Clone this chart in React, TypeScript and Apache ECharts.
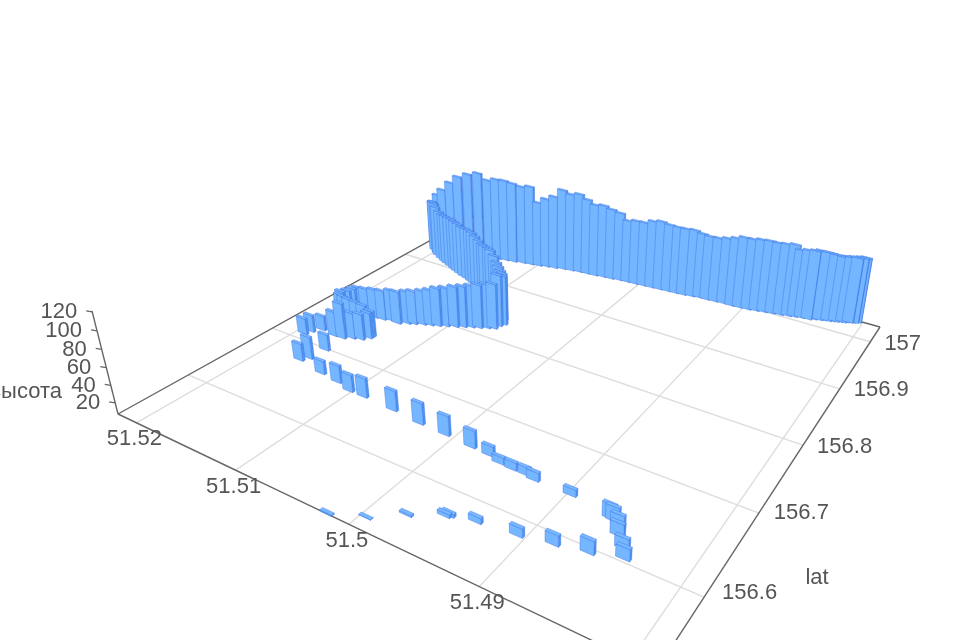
import React, { useEffect, useRef } from "react";
import * as echarts from "echarts";

// [lon, lat, height]
const ribbonBars = [
  [51.4806,157.033,91],[51.4808,157.031,91],[51.4810,157.030,91],[51.4812,157.028,91],[51.4815,157.027,91],
  [51.4817,157.025,91],[51.4820,157.024,91],[51.4823,157.022,91],[51.4826,157.021,92],[51.4829,157.019,93],
  [51.4833,157.018,94],[51.4836,157.016,95],[51.4841,157.014,96],[51.4845,157.011,96],[51.4851,157.010,95],
  [51.4857,157.008,94],[51.4862,157.006,100],[51.4869,157.004,99],[51.4876,157.002,99],[51.4883,157.000,100],
  [51.4890,156.998,100],[51.4897,156.996,99],[51.4905,156.995,99],[51.4912,156.994,96],[51.4920,156.994,93],
  [51.4928,156.993,91],[51.4936,156.992,91],[51.4943,156.992,92],[51.4950,156.990,95],[51.4958,156.988,95],
  [51.4965,156.987,95],[51.4973,156.986,96],[51.4981,156.985,98],[51.4989,156.984,96],[51.4997,156.983,92],
  [51.5005,156.982,92],[51.5013,156.981,90],[51.5021,156.980,98],[51.5029,156.978,101],[51.5037,156.977,104],
  [51.5045,156.975,103],[51.5053,156.974,108],[51.5061,156.973,113],[51.5069,156.971,111],[51.5077,156.969,115],
  [51.5085,156.966,105],[51.5093,156.964,100],[51.5100,156.961,94],[51.5108,156.959,114],[51.5116,156.957,112],
  [51.5125,156.954,115],[51.5133,156.952,117],[51.5141,156.950,117],[51.5150,156.9495,113],[51.5163,156.952,118],
  [51.5175,156.952,113],[51.5187,156.952,106],[51.5197,156.952,95],[51.5207,156.952,82],[51.5212,156.950,74],
  [51.5213,156.943,66],[51.5206,156.9326,73],[51.5203,156.928,75],[51.5197,156.923,77],[51.5193,156.919,75],
  [51.5186,156.9145,73],[51.5180,156.911,72],[51.5175,156.908,73],[51.5169,156.905,74],[51.5163,156.902,75],
  [51.5158,156.899,75],[51.5152,156.896,75],[51.5146,156.893,74],[51.5140,156.891,75],[51.5134,156.888,76],
  [51.5129,156.885,76],[51.5123,156.881,75],[51.5117,156.878,73],[51.5111,156.874,72],[51.5106,156.870,73],
  [51.5100,156.867,74],[51.5095,156.863,75],[51.5089,156.859,72],[51.5083,156.854,68],[51.5078,156.849,67],
  [51.5073,156.844,66],[51.5068,156.838,67],[51.5064,156.831,69],
  [51.5066,156.826,72],[51.5067,156.819,64],[51.5072,156.816,63],[51.5078,156.812,62],[51.5084,156.809,60],
  [51.5090,156.805,59],[51.5096,156.801,58],[51.5103,156.797,56],[51.5109,156.793,55],[51.5115,156.790,52],
  [51.5121,156.787,50],[51.5128,156.783,49],[51.5133,156.780,48],[51.5140,156.775,48],[51.5147,156.776,46],
  [51.5155,156.773,44],[51.5163,156.772,43],[51.5171,156.770,42],[51.5177,156.768,42],[51.5181,156.765,41],
  [51.5183,156.760,40],[51.5183,156.752,43],[51.5180,156.7465,43],[51.5175,156.745,43],[51.5169,156.744,43],
  [51.5159,156.742,44],[51.5151,156.741,44],[51.5144,156.742,39],[51.5144,156.738,39],[51.5148,156.732,39],
  [51.5155,156.729,39],[51.5162,156.724,51],[51.5170,156.723,38],
];

const isolatedBars = [
  [51.5193,156.710,27],[51.5191,156.717,28],[51.5185,156.725,25],[51.5160,156.699,27],[51.5162,156.680,34],
  [51.5166,156.673,28],[51.5138,156.667,23],[51.5119,156.664,28],[51.5103,156.659,27.5],[51.5089,156.659,30],
  [51.5059,156.657,31],[51.5032,156.654,32],[51.5008,156.653,30],[51.4984,156.651,27],[51.4968,156.650,18.5],
  [51.4957,156.646,15],[51.4946,156.645,16],[51.4935,156.645,16],[51.4927,156.643,17],[51.4898,156.643,15],
  [51.4865,156.636,23],[51.4862,156.635,23],[51.4857,156.632,20],[51.4853,156.623,21],[51.4845,156.613,19],
  [51.4840,156.604,20],[51.4861,156.596,22],[51.4883,156.590,19],[51.4906,156.584,17],[51.4935,156.580,13.5],
  [51.4953,156.575,11],[51.4955,156.573,11],[51.4976,156.559,9],[51.4996,156.541,7.5],[51.5019,156.529,8.5],
];

const lonTicks = [51.52, 51.51, 51.5, 51.49, 51.48];
const lonLabels = ["51.52", "51.51", "51.5", "51.49"];
const latTicks = [157, 156.9, 156.8, 156.7, 156.6];
const latLabels = ["157", "156.9", "156.8", "156.7", "156.6"];
const heightTicks = [20, 40, 60, 80, 100, 120];
const heightLabels = ["20", "40", "60", "80", "100", "120"];
const latLabelNudge = [[0, 1], [0, 0], [0, 0], [1, -2], [4, -6]];

// Axis ranges
const LON_MAX = 51.522, LON_SPAN = 0.0435;
const LAT_MAX = 157.035, LAT_SPAN = 0.507;
const Z_MIN = 7, Z_SPAN = 114;
const LON_MIN = LON_MAX - LON_SPAN, LAT_MIN = LAT_MAX - LAT_SPAN;

// Camera matrix of the 3D box
const M = { a: 245.98, b: -396.21, c: 476, d: 53.28, e: 64.93, f: 215, g: -0.17957, h: -0.32384, k: -0.03832, vx: 551, vy: 2130 };
// Footprint of one bar in axis units
const BAR_LON = 0.00098, BAR_LAT = 0.003;

function homog(lon: number, lat: number, z: number) {
  const s = (LON_MAX - lon) / LON_SPAN;
  const t = (LAT_MAX - lat) / LAT_SPAN;
  const q = (z - Z_MIN) / Z_SPAN;
  const w = M.g * s + M.h * t + 1 + M.k * q;
  return {
    x: (M.a * s + M.b * t + M.c + M.k * M.vx * q) / w,
    y: (M.d * s + M.e * t + M.f + M.k * M.vy * q) / w,
    w,
  };
}
const project = (lon: number, lat: number, z: number): [number, number] => {
  const p = homog(lon, lat, z);
  return [p.x, p.y];
};
const area = (pts: number[][]) => {
  let sum = 0;
  for (let i = 0; i < pts.length; i++) {
    const [x0, y0] = pts[i];
    const [x1, y1] = pts[(i + 1) % pts.length];
    sum += x0 * y1 - x1 * y0;
  }
  return sum / 2;
};

const TOP_FILL = "#78b8ff";
const FRONT_FILL = "#74b6ff";
const SIDE_FILL = "#5094ee";
const EDGE = "rgba(52,108,226,0.55)";
const AXIS = "#666";
const GRID = "#ddd";
const TEXT = "#555";
const FONT = "22px 'Liberation Sans', Arial, sans-serif";

function renderBar(_params: any, api: any) {
  const lon = api.value(0), lat = api.value(1), z = api.value(2);
  const l0 = lon - BAR_LON / 2, l1 = lon + BAR_LON / 2;
  const a0 = lat - BAR_LAT / 2, a1 = lat + BAR_LAT / 2;
  const ring: number[][] = [[l1, a1], [l0, a1], [l0, a0], [l1, a0]];
  const children: any[] = [];
  for (let i = 0; i < 4; i++) {
    const p = ring[i], n = ring[(i + 1) % 4];
    const pts = [project(p[0], p[1], Z_MIN), project(n[0], n[1], Z_MIN), project(n[0], n[1], z), project(p[0], p[1], z)];
    if (area(pts) > 0) {
      children.push({ type: "polygon", shape: { points: pts }, style: { fill: i % 2 ? SIDE_FILL : FRONT_FILL, stroke: EDGE, lineWidth: 0.7 } });
    }
  }
  children.push({
    type: "polygon",
    shape: { points: ring.map((p) => project(p[0], p[1], z)) },
    style: { fill: TOP_FILL, stroke: EDGE, lineWidth: 0.7 },
  });
  return { type: "group", children };
}

function line(p: [number, number], q: [number, number], stroke: string, lineWidth: number) {
  return { type: "line", z: 0, shape: { x1: p[0], y1: p[1], x2: q[0], y2: q[1] }, style: { stroke, lineWidth } };
}
function label(text: string, x: number, y: number, align: string) {
  return { type: "text", z: 1, x, y, style: { text, font: FONT, fill: TEXT, align, verticalAlign: "middle" } };
}

function buildGraphics() {
  const out: any[] = [];
  lonTicks.forEach((v) => out.push(line(project(v, LAT_MAX, Z_MIN), project(v, LAT_MIN, Z_MIN), GRID, 1.4)));
  latTicks.forEach((v) => out.push(line(project(LON_MAX, v, Z_MIN), project(LON_MIN, v, Z_MIN), GRID, 1.4)));
  out.push(line(project(LON_MAX, LAT_MIN, Z_MIN), project(LON_MIN, LAT_MIN, Z_MIN), AXIS, 1.4));
  out.push(line(project(LON_MIN, LAT_MIN, Z_MIN), project(LON_MIN, LAT_MAX, Z_MIN), AXIS, 1.4));
  out.push(line(project(LON_MIN, LAT_MAX, Z_MIN), project(LON_MAX, LAT_MAX, Z_MIN), AXIS, 1.4));
  out.push(line(project(LON_MAX, LAT_MAX, Z_MIN), project(LON_MAX, LAT_MIN, Z_MIN), AXIS, 1.4));
  out.push(line(project(LON_MAX, LAT_MIN, Z_MIN), project(LON_MAX, LAT_MIN, 121), AXIS, 1.4));
  heightTicks.forEach((v, i) => {
    const p = project(LON_MAX, LAT_MIN, v);
    out.push(line(p, [p[0] - 6, p[1] - 1], AXIS, 1.2));
    out.push(label(heightLabels[i], p[0] - 15, p[1] - 1, "right"));
  });
  lonLabels.forEach((txt, i) => {
    const p = project(lonTicks[i], LAT_MIN, Z_MIN);
    out.push(label(txt, p[0] - 2, p[1] + 15, "center"));
  });
  latLabels.forEach((txt, i) => {
    const p = project(LON_MIN, latTicks[i], Z_MIN);
    out.push(label(txt, p[0] + 14 + latLabelNudge[i][0], p[1] + latLabelNudge[i][1], "left"));
  });
  out.push(label("высота", 62, 390, "right"));
  out.push(label("lat", 817, 576, "center"));
  return out;
}

export default function App() {
  const ref = useRef<HTMLDivElement>(null);
  useEffect(() => {
    document.body.style.margin = "0";
    const chart = echarts.init(ref.current!, undefined, { renderer: "svg" });
    const depth = (b: number[]) => homog(b[0], b[1], Z_MIN).w;
    const bars = [...ribbonBars, ...isolatedBars].slice().sort((p, q) => depth(q) - depth(p));
    chart.setOption({
      animation: false,
      backgroundColor: "#fff",
      graphic: { elements: buildGraphics() },
      series: [
        {
          type: "custom",
          coordinateSystem: "none",
          silent: true,
          clip: false,
          z: 5,
          renderItem: renderBar,
          encode: { x: 0, y: 1 },
          data: bars,
        },
      ],
    });
    return () => chart.dispose();
  }, []);
  return <div ref={ref} style={{ width: 960, height: 640, filter: "blur(0.5px)" }} />;
}
